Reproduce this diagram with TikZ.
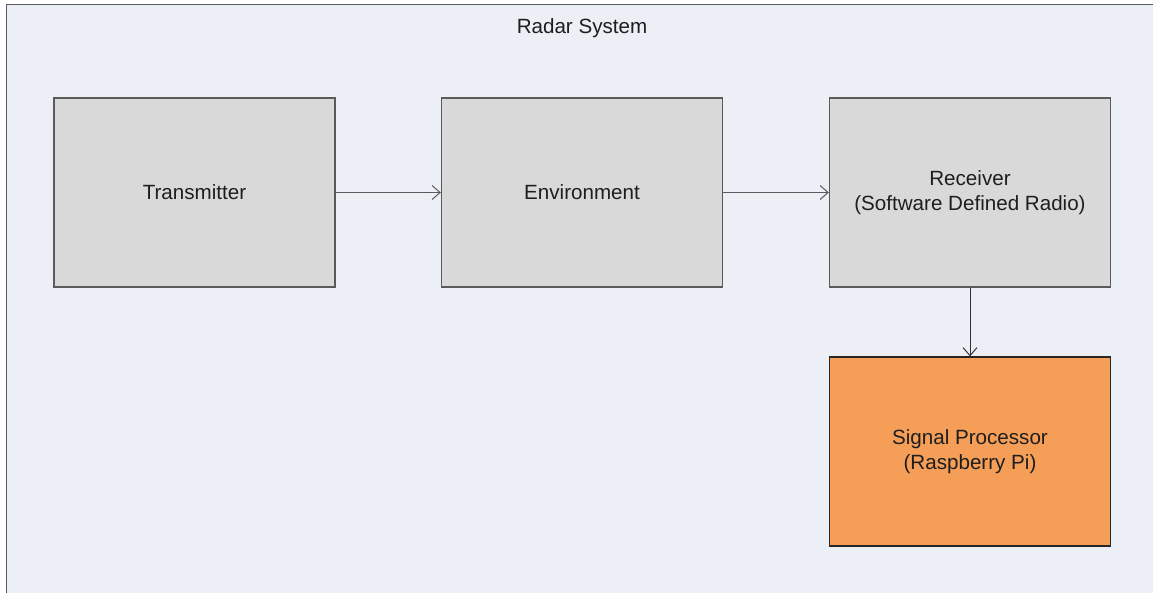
\documentclass[tikz,border=0pt]{standalone}
\usepackage{fontspec}
\setmainfont{Liberation Sans}
\usetikzlibrary{arrows.meta}
\definecolor{bgframe}{HTML}{ECEFF5}
\definecolor{boxgray}{HTML}{D9D9D9}
\definecolor{boxorange}{HTML}{F59E58}
\definecolor{edgegray}{HTML}{5A5A5A}
\definecolor{txt}{HTML}{1E1E1E}
\tikzset{
  blockbox/.style={draw=edgegray, line width=1.3pt, fill=boxgray, minimum width=281pt, minimum height=189pt, inner sep=0pt, align=center, text=txt, font=\fontsize{20.6}{25.5}\selectfont},
  orangebox/.style={blockbox, fill=boxorange, draw=black!85},
  flow/.style={draw=edgegray, line width=1pt, -{Straight Barb[length=8pt,width=14pt,line width=1pt]}},
}
\begin{document}
\begin{tikzpicture}[x=1pt,y=-1pt]
\useasboundingbox (0,0) rectangle (1153,592);
\clip (0,0) rectangle (1153,592);
\fill[white] (0,0) rectangle (1153,592);
\draw[draw=edgegray, line width=1.5pt, fill=bgframe] (6.5,4.5) rectangle (1170,610);
\node[text=txt, font=\fontsize{20.6}{25.5}\selectfont] (title) at (582,28.5) {Radar System};
\node[blockbox] (tx) at (194.5,192.5) {Transmitter};
\node[blockbox] (env) at (582,192.5) {Environment};
\node[blockbox] (rx) at (970,192.5) {Receiver\\(Software Defined Radio)};
\node[orangebox] (sp) at (970,451.5) {Signal Processor\\(Raspberry Pi)};
\draw[flow] (tx.east) -- (env.west);
\draw[flow] (env.east) -- (rx.west);
\draw[flow, draw=black!80] (rx.south) -- (sp.north);
\end{tikzpicture}
\end{document}
